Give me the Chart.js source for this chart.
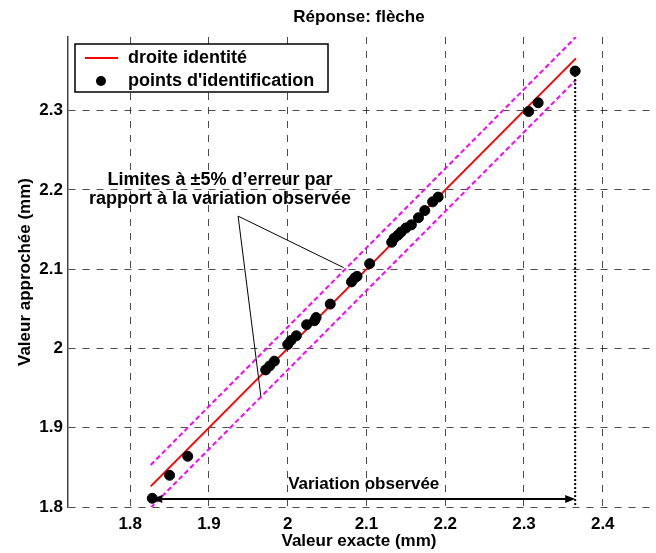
<!DOCTYPE html>
<html>
<head>
    <title>Réponse: flèche</title>
    <script src="https://cdn.jsdelivr.net/npm/chart.js"></script>
    <style>
        body { margin: 0; background: #fff; }
    </style>
</head>
<body>
    <canvas id="myChart" width="656" height="553"></canvas>

    <script>
        // identification points (valeur exacte, valeur approchée)
        const exactX  = [1.828, 1.850, 1.873, 1.972, 1.977, 1.983, 2.000, 2.004, 2.011, 2.024, 2.034, 2.036,
                         2.054, 2.081, 2.085, 2.088, 2.104, 2.132, 2.135, 2.140, 2.144, 2.150, 2.157, 2.166,
                         2.174, 2.184, 2.191, 2.306, 2.318, 2.365];
        const approxY = [1.811, 1.840, 1.864, 1.973, 1.978, 1.984, 2.005, 2.010, 2.016, 2.030, 2.035, 2.039,
                         2.056, 2.084, 2.089, 2.091, 2.107, 2.134, 2.139, 2.143, 2.147, 2.152, 2.156, 2.165,
                         2.174, 2.185, 2.191, 2.299, 2.310, 2.350];

        // droite identité and ±5% limits (ends of each segment)
        const lineX  = [1.826, 2.366];
        const identY = [1.826, 2.366];
        const upperY = [1.853, 2.393];
        const lowerY = [1.799, 2.339];

        const xTicksRange = [1.721, 2.46];
        const yTicksRange = [1.8, 2.393];

        // annotations
        const variationX = [1.828, 2.365];
        const variationY = 1.810;
        const calloutFrom = [1.937, 2.167];
        const calloutTo = [[2.071, 2.102], [1.966, 1.939]];
        const calloutText = ['Limites à ±5% d\u2019erreur par', 'rapport à la variation observée'];
        const calloutTextPos = [1.914, 2.213, 2.188];

        const FONT = '"Liberation Sans", Arial, Helvetica, sans-serif';

        function pts(xs, ys) {
            return xs.map((x, i) => ({ x: x, y: ys[i] }));
        }

        const overlay = {
            id: 'overlay',
            afterDraw(chart) {
                const ctx = chart.ctx;
                const xs = chart.scales.x, ys = chart.scales.y;
                const a = chart.chartArea;
                const px = v => xs.getPixelForValue(v);
                const py = v => ys.getPixelForValue(v);
                ctx.save();

                // dotted vertical from the last point to the axis
                ctx.strokeStyle = '#000';
                ctx.lineWidth = 2;
                ctx.setLineDash([2, 2]);
                ctx.beginPath();
                ctx.moveTo(px(variationX[1]), py(approxY[approxY.length - 1]));
                ctx.lineTo(px(variationX[1]), a.bottom);
                ctx.stroke();
                ctx.setLineDash([]);

                // double arrow "Variation observée"
                const ax0 = px(variationX[0]), ax1 = px(variationX[1]), ay = py(variationY);
                ctx.beginPath();
                ctx.moveTo(ax0 + 2, ay);
                ctx.lineTo(ax1 - 2, ay);
                ctx.stroke();
                ctx.fillStyle = '#000';
                ctx.beginPath();
                ctx.moveTo(ax0, ay); ctx.lineTo(ax0 + 10, ay - 4); ctx.lineTo(ax0 + 10, ay + 4); ctx.closePath();
                ctx.fill();
                ctx.beginPath();
                ctx.moveTo(ax1, ay); ctx.lineTo(ax1 - 10, ay - 4); ctx.lineTo(ax1 - 10, ay + 4); ctx.closePath();
                ctx.fill();

                ctx.font = 'bold 17px ' + FONT;
                ctx.textAlign = 'center';
                ctx.textBaseline = 'middle';
                ctx.fillText('Variation observée', (ax0 + ax1) / 2, ay - 15);

                // callout lines + text
                ctx.lineWidth = 1;
                ctx.beginPath();
                calloutTo.forEach(t => {
                    ctx.moveTo(px(calloutFrom[0]), py(calloutFrom[1]));
                    ctx.lineTo(px(t[0]), py(t[1]));
                });
                ctx.stroke();
                ctx.font = 'bold 18px ' + FONT;
                ctx.fillText(calloutText[0], px(calloutTextPos[0]), py(calloutTextPos[1]));
                ctx.fillText(calloutText[1], px(calloutTextPos[0]), py(calloutTextPos[2]));

                // legend box
                const lx = a.left + 7, ly = a.top + 7;
                ctx.fillStyle = '#fff';
                ctx.fillRect(lx, ly, 253, 48);
                ctx.strokeStyle = '#000';
                ctx.lineWidth = 1.5;
                ctx.strokeRect(lx, ly, 253, 48);
                ctx.strokeStyle = '#ff0000';
                ctx.lineWidth = 2;
                ctx.beginPath();
                ctx.moveTo(lx + 10, ly + 14);
                ctx.lineTo(lx + 43, ly + 14);
                ctx.stroke();
                ctx.fillStyle = '#000';
                ctx.beginPath();
                ctx.arc(lx + 26, ly + 37, 5, 0, Math.PI * 2);
                ctx.fill();
                ctx.textAlign = 'left';
                ctx.fillText('droite identité', lx + 53, ly + 14);
                ctx.fillText("points d'identification", lx + 53, ly + 37);

                // title and axis labels
                ctx.font = 'bold 17px ' + FONT;
                ctx.textAlign = 'center';
                const cx = (a.left + a.right) / 2, cy = (a.top + a.bottom) / 2;
                ctx.fillText('Réponse: flèche', cx, 17);
                ctx.fillText('Valeur exacte (mm)', cx, 541);
                ctx.translate(25, cy);
                ctx.rotate(-Math.PI / 2);
                ctx.fillText('Valeur approchée (mm)', 0, 0);
                ctx.restore();
            }
        };

        const ctx = document.getElementById('myChart').getContext('2d');
        window.myChart = new Chart(ctx, {
            type: 'scatter',
            data: {
                datasets: [
                    {
                        label: "points d'identification",
                        data: pts(exactX, approxY),
                        backgroundColor: '#000',
                        borderColor: '#000',
                        pointRadius: 5,
                        order: 0
                    },
                    {
                        label: 'droite identité',
                        type: 'line',
                        data: pts(lineX, identY),
                        borderColor: '#ff0000',
                        borderWidth: 2,
                        pointRadius: 0,
                        fill: false,
                        order: 1
                    },
                    {
                        label: '+5%',
                        type: 'line',
                        data: pts(lineX, upperY),
                        borderColor: '#ff00ff',
                        borderWidth: 2,
                        borderDash: [5, 3],
                        pointRadius: 0,
                        fill: false,
                        order: 2
                    },
                    {
                        label: '-5%',
                        type: 'line',
                        data: pts(lineX, lowerY),
                        borderColor: '#ff00ff',
                        borderWidth: 2,
                        borderDash: [5, 3],
                        pointRadius: 0,
                        fill: false,
                        order: 2
                    }
                ]
            },
            options: {
                responsive: false,
                animation: false,
                layout: { padding: { top: 37, right: 0, left: 0, bottom: 0 } },
                plugins: {
                    legend: { display: false },
                    tooltip: { enabled: false }
                },
                scales: {
                    x: {
                        type: 'linear',
                        min: xTicksRange[0],
                        max: xTicksRange[1],
                        afterFit: s => { s.height = 46; },
                        ticks: {
                            stepSize: 0.1,
                            includeBounds: false,
                            padding: 7,
                            color: '#000',
                            font: { family: FONT, size: 17, weight: 'bold' },
                            maxRotation: 0,
                            callback: v => String(+v.toFixed(1))
                        },
                        grid: { color: 'rgba(0,0,0,0.7)', drawTicks: false },
                        border: { display: false, dash: [7, 7] }
                    },
                    y: {
                        type: 'linear',
                        min: yTicksRange[0],
                        max: yTicksRange[1],
                        afterFit: s => { s.width = 68; },
                        ticks: {
                            stepSize: 0.1,
                            includeBounds: false,
                            padding: 5,
                            color: '#000',
                            font: { family: FONT, size: 17, weight: 'bold' },
                            callback: v => String(+v.toFixed(1))
                        },
                        grid: { color: 'rgba(0,0,0,0.7)', drawTicks: false },
                        border: { display: true, color: '#444', width: 1.5, dash: [7, 7] }
                    }
                }
            },
            plugins: [overlay]
        });
    </script>
</body>
</html>
